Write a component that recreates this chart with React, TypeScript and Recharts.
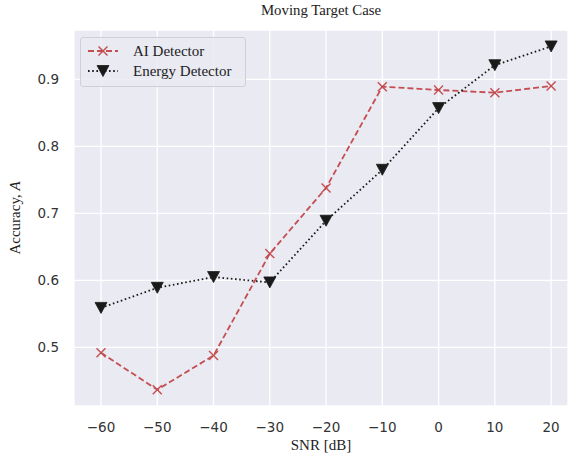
import { LineChart, Line, CartesianGrid, XAxis, YAxis } from "recharts";

// SNR values (dB)
const snr = [-60, -50, -40, -30, -20, -10, 0, 10, 20];
// accuracy curves
const aiDetector = [0.492, 0.437, 0.488, 0.64, 0.738, 0.889, 0.884, 0.88, 0.89];
const energyDetector = [0.559, 0.589, 0.605, 0.597, 0.689, 0.765, 0.857, 0.921, 0.949];

const xTicks = [-60, -50, -40, -30, -20, -10, 0, 10, 20];
const yTicks = [0.5, 0.6, 0.7, 0.8, 0.9];

const AI_COLOR = "#C44E52";
const ED_COLOR = "#1a1a1a";
const SERIF = "'Liberation Serif', 'DejaVu Serif', serif";
const SANS = "'DejaVu Sans', sans-serif";

const data = snr.map((s, i) => ({ snr: s, ai: aiDetector[i], ed: energyDetector[i] }));

const fmtTick = (v: number) => (v < 0 ? "\u2212" + Math.abs(v) : String(v));

function CrossDot(props: any) {
  const { cx, cy } = props;
  if (cx == null || cy == null) return null;
  const r = 4.5;
  return (
    <g stroke={AI_COLOR} strokeWidth={1.4}>
      <line x1={cx - r} y1={cy - r} x2={cx + r} y2={cy + r} />
      <line x1={cx - r} y1={cy + r} x2={cx + r} y2={cy - r} />
    </g>
  );
}

function TriDot(props: any) {
  const { cx, cy } = props;
  if (cx == null || cy == null) return null;
  const w = 6, h = 5.5;
  return (
    <path
      d={`M${cx - w},${cy - h} L${cx + w},${cy - h} L${cx},${cy + h} Z`}
      fill={ED_COLOR}
      stroke={ED_COLOR}
      strokeWidth={0.8}
    />
  );
}

function LegendBox() {
  return (
    <div
      style={{
        position: "absolute",
        top: 37,
        left: 80,
        width: 158,
        height: 45,
        background: "rgba(234,234,242,0.85)",
        border: "1px solid #cfcfd6",
        borderRadius: 3,
        padding: "3px 0 0 6px",
        boxSizing: "content-box",
        fontFamily: SERIF,
        fontSize: 15,
        color: "#222",
      }}
    >
      {[
        { name: "AI Detector", kind: "ai" },
        { name: "Energy Detector", kind: "ed" },
      ].map((it) => (
        <div key={it.name} style={{ display: "flex", alignItems: "center", height: 20 }}>
          <svg width={32} height={14} style={{ marginRight: 14 }}>
            {it.kind === "ai" ? (
              <>
                <line x1={1} y1={7} x2={31} y2={7} stroke={AI_COLOR} strokeWidth={1.8} strokeDasharray="6 3" />
                <CrossDot cx={16} cy={7} />
              </>
            ) : (
              <>
                <line x1={1} y1={7} x2={31} y2={7} stroke={ED_COLOR} strokeWidth={1.8} strokeDasharray="1.6 2.6" />
                <TriDot cx={16} cy={7} />
              </>
            )}
          </svg>
          <span>{it.name}</span>
        </div>
      ))}
    </div>
  );
}

function YLabel() {
  return (
    <text
      x={15}
      y={218}
      transform="rotate(-90 15 218)"
      textAnchor="middle"
      dominantBaseline="central"
      fontFamily={SERIF}
      fontSize={15}
      fill="#222"
    >
      Accuracy, <tspan fontStyle="italic">A</tspan>
    </text>
  );
}

export default function App() {
  return (
    <div style={{ position: "fixed", top: 0, left: 0, width: 574, height: 454, background: "#fff" }}>
      <div
        style={{
          position: "absolute",
          top: 2,
          left: 74,
          width: 494,
          textAlign: "center",
          fontFamily: SERIF,
          fontSize: 14.8,
          color: "#222",
        }}
      >
        Moving Target Case
      </div>
      <LineChart
        width={574}
        height={454}
        data={data}
        margin={{ top: 30, right: 6, bottom: 18, left: 30 }}
      >
        <CartesianGrid stroke="#ffffff" strokeWidth={1.3} fill="#EAEAF2" />
        <XAxis
          dataKey="snr"
          type="number"
          domain={[-64.8, 23]}
          ticks={xTicks}
          tickFormatter={fmtTick}
          axisLine={false}
          tickLine={false}
          tickMargin={10}
          height={30}
          tick={{ fontFamily: SANS, fontSize: 13.5, fill: "#333" }}
          label={{
            value: "SNR [dB]",
            position: "insideBottom",
            offset: -14,
            style: { fontFamily: SERIF, fontSize: 15, fill: "#222" },
          }}
        />
        <YAxis
          type="number"
          domain={[0.4127, 0.9735]}
          ticks={yTicks}
          tickFormatter={(v: number) => v.toFixed(1)}
          axisLine={false}
          tickLine={false}
          tickMargin={9}
          width={44}
          tick={{ fontFamily: SANS, fontSize: 13.5, fill: "#333" }}
          label={<YLabel />}
        />
        <Line
          type="linear"
          dataKey="ai"
          stroke={AI_COLOR}
          strokeWidth={1.8}
          strokeDasharray="6 3"
          dot={<CrossDot />}
          activeDot={false}
          isAnimationActive={false}
        />
        <Line
          type="linear"
          dataKey="ed"
          stroke={ED_COLOR}
          strokeWidth={1.8}
          strokeDasharray="1.6 2.6"
          dot={<TriDot />}
          activeDot={false}
          isAnimationActive={false}
        />
      </LineChart>
      <LegendBox />
    </div>
  );
}
